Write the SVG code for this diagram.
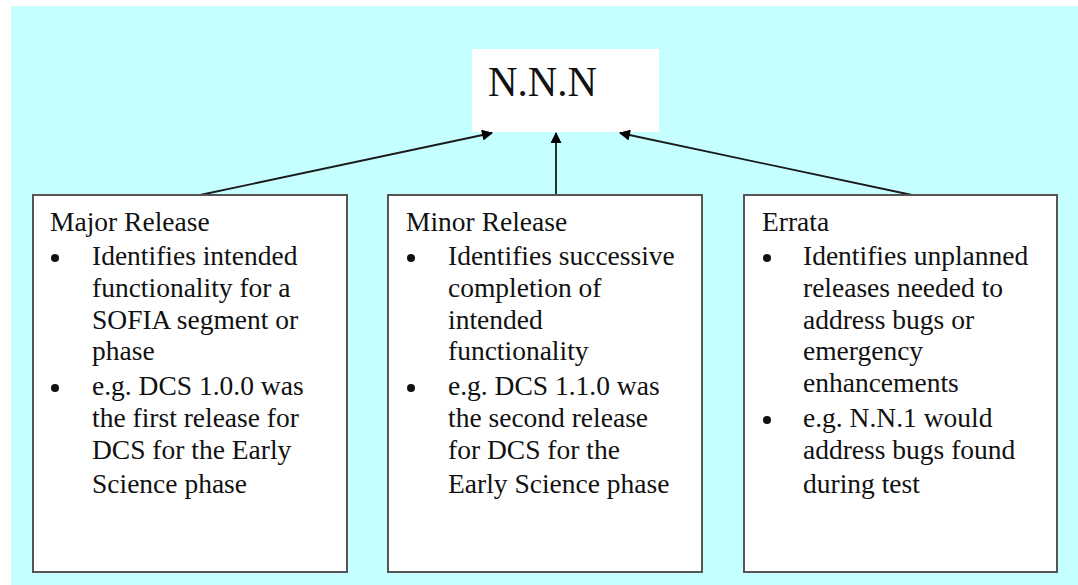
<svg xmlns="http://www.w3.org/2000/svg" width="1078" height="585" viewBox="0 0 1078 585">
<style>
.t{font-family:"Liberation Serif","Times New Roman",serif;font-size:27.5px;fill:#111;}
.box{fill:#fff;stroke:#555;stroke-width:2;}
.bul{fill:#111;}
.con{stroke:#1a1a1a;stroke-width:1.8;fill:none;marker-end:url(#ah);}
</style>
<defs>
<marker id="ah" viewBox="0 0 10 10" refX="9" refY="5" markerWidth="13" markerHeight="11" markerUnits="userSpaceOnUse" orient="auto">
<path d="M0,0 L10,5 L0,10 z" fill="#000"/>
</marker>
</defs>
<rect x="0" y="0" width="1078" height="585" fill="#fff"/>
<rect x="11" y="6" width="1067" height="579" fill="#C6FFFF"/>
<g id="top">
<rect x="472" y="49" width="187" height="83" fill="#fff"/>
<text x="488" y="96" style="font-family:'Liberation Serif','Times New Roman',serif;font-size:43px;fill:#111" textLength="109" lengthAdjust="spacingAndGlyphs">N.N.N</text>
</g>
<g id="connectors">
<line class="con" x1="200" y1="195" x2="492" y2="133"/>
<line class="con" x1="556" y1="195" x2="556" y2="133"/>
<line class="con" x1="912" y1="195" x2="620" y2="133"/>
</g>
<g id="major">
<rect class="box" x="33" y="195" width="314" height="377"/>
<text class="t" x="50" y="231">Major Release</text>
<circle class="bul" cx="55" cy="258" r="4"/>
<text class="t" x="92" y="265">Identifies intended</text>
<text class="t" x="92" y="297">functionality for a</text>
<text class="t" x="92" y="329">SOFIA segment or</text>
<text class="t" x="92" y="360">phase</text>
<circle class="bul" cx="55" cy="388" r="4"/>
<text class="t" x="92" y="395">e.g. DCS 1.0.0 was</text>
<text class="t" x="92" y="427">the first release for</text>
<text class="t" x="92" y="459">DCS for the Early</text>
<text class="t" x="92" y="493">Science phase</text>
</g>
<g id="minor">
<rect class="box" x="388" y="195" width="314" height="377"/>
<text class="t" x="406" y="231">Minor Release</text>
<circle class="bul" cx="411" cy="258" r="4"/>
<text class="t" x="448" y="265">Identifies successive</text>
<text class="t" x="448" y="297">completion of</text>
<text class="t" x="448" y="329">intended</text>
<text class="t" x="448" y="360">functionality</text>
<circle class="bul" cx="411" cy="388" r="4"/>
<text class="t" x="448" y="395">e.g. DCS 1.1.0 was</text>
<text class="t" x="448" y="427">the second release</text>
<text class="t" x="448" y="459">for DCS for the</text>
<text class="t" x="448" y="493">Early Science phase</text>
</g>
<g id="errata">
<rect class="box" x="744" y="195" width="313" height="377"/>
<text class="t" x="762" y="231">Errata</text>
<circle class="bul" cx="767" cy="258" r="4"/>
<text class="t" x="803" y="265">Identifies unplanned</text>
<text class="t" x="803" y="297">releases needed to</text>
<text class="t" x="803" y="329">address bugs or</text>
<text class="t" x="803" y="360">emergency</text>
<text class="t" x="803" y="392">enhancements</text>
<circle class="bul" cx="767" cy="420" r="4"/>
<text class="t" x="803" y="427">e.g. N.N.1 would</text>
<text class="t" x="803" y="459">address bugs found</text>
<text class="t" x="803" y="493">during test</text>
</g>
</svg>
